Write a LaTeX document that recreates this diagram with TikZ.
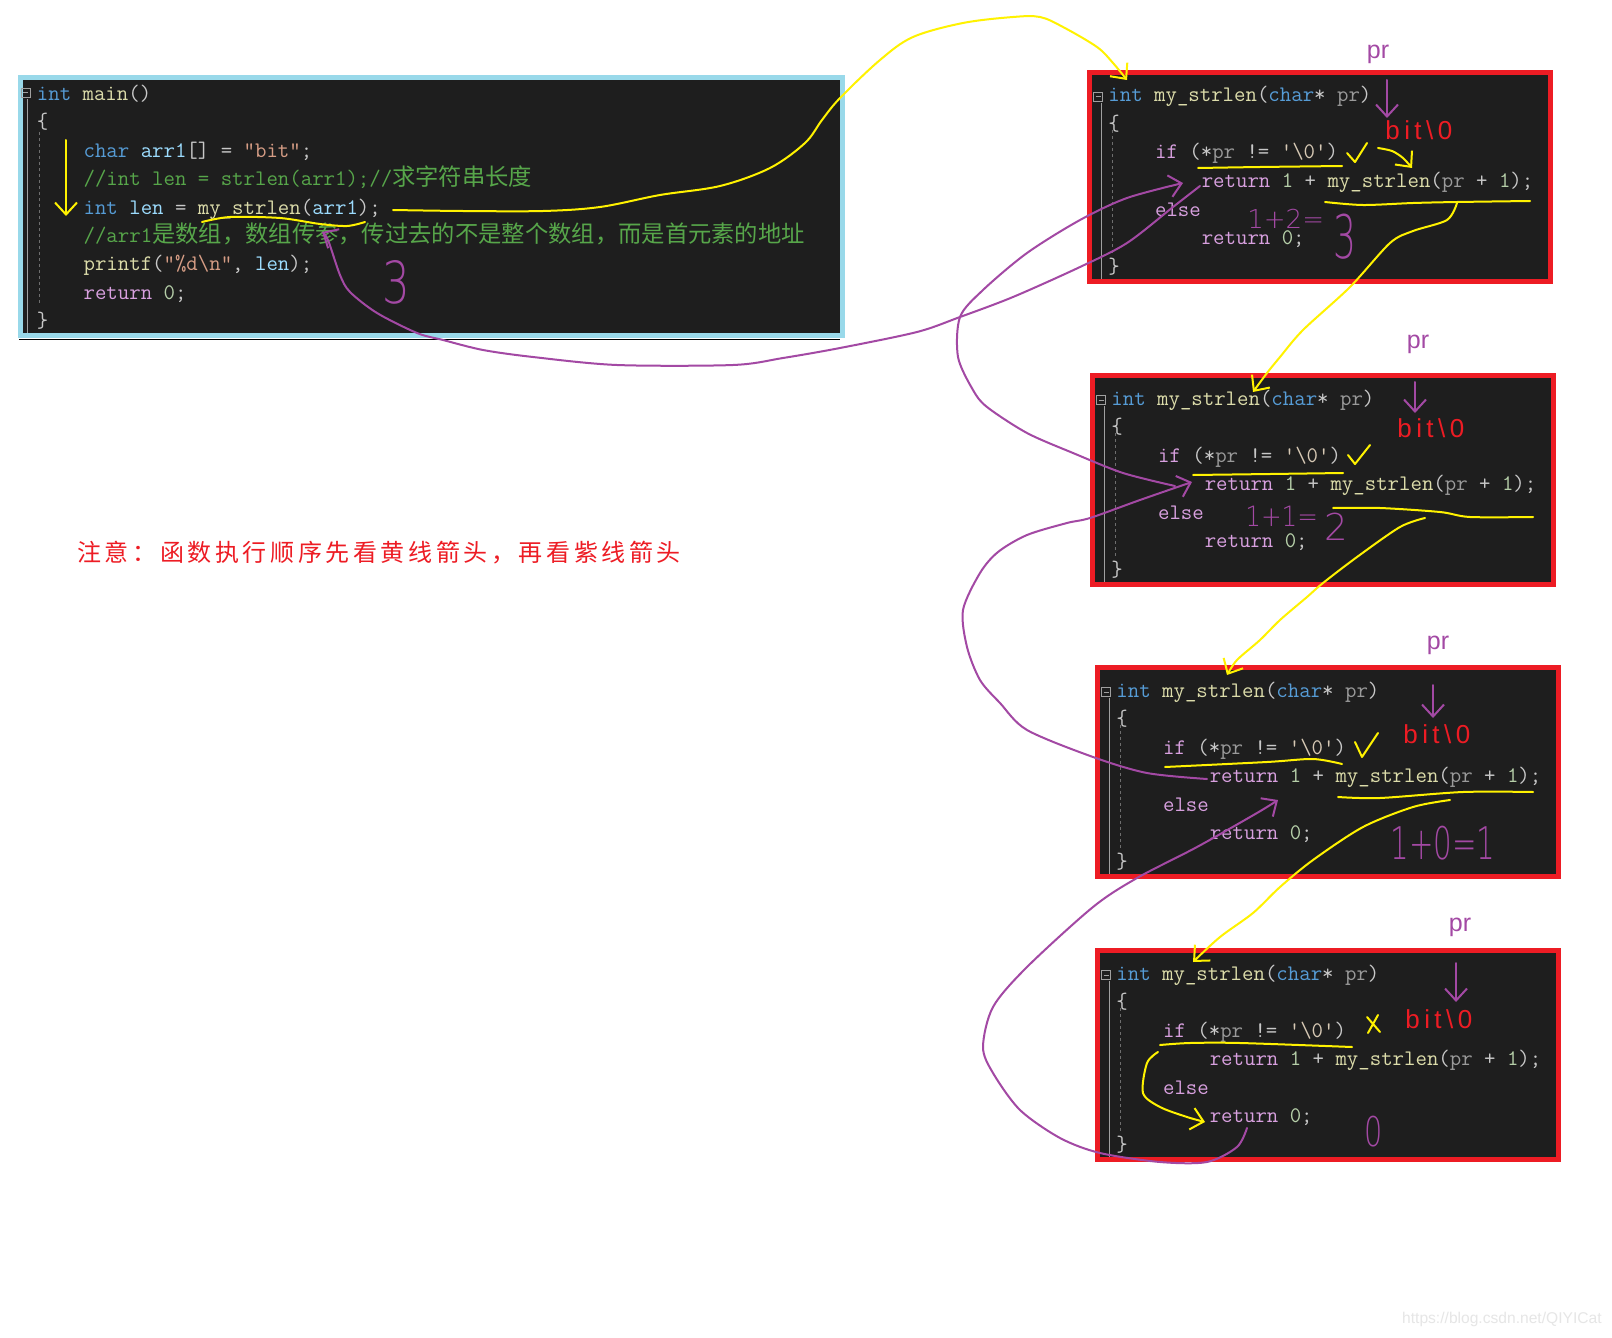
\documentclass[tikz,border=0pt]{standalone}
\usepackage{fontspec}
\usetikzlibrary{arrows.meta}

\newfontfamily\cjkcode[Scale=1.05]{Noto Sans CJK SC}
\newfontfamily\notefont[LetterSpace=15]{Noto Sans CJK SC}
\newfontfamily\markfont{Liberation Sans}
\newfontfamily\bitfont[LetterSpace=17]{Liberation Sans}
\IfFontExistsTF{DejaVu Sans ExtraLight}
  {\newfontfamily\handfont{DejaVu Sans ExtraLight}}
  {\newfontfamily\handfont{DejaVu Sans}}

\definecolor{codebg}{HTML}{1E1E1E}
\definecolor{kwblue}{HTML}{569CD6}
\definecolor{fnyellow}{HTML}{DCDCAA}
\definecolor{ctrlpink}{HTML}{D8A0DF}
\definecolor{punctgray}{HTML}{C8C8C8}
\definecolor{paramgray}{HTML}{9A9A9A}
\definecolor{localblue}{HTML}{9CDCFE}
\definecolor{numgreen}{HTML}{B5CEA8}
\definecolor{strorange}{HTML}{D69D85}
\definecolor{charlit}{HTML}{D6C8B4}
\definecolor{cmtgreen}{HTML}{57A64A}
\definecolor{inkyellow}{HTML}{FFF200}
\definecolor{inkpurple}{HTML}{A349A4}
\definecolor{inkred}{HTML}{ED1C24}
\definecolor{framecyan}{HTML}{99D9EA}
\definecolor{foldgray}{HTML}{A0A0A0}
\definecolor{guidegray}{HTML}{6E6E6E}
\definecolor{wmgray}{HTML}{E6E6E6}

\newcommand\codefont{\ttfamily\fontsize{11.1pt}{13pt}\selectfont\addfontfeature{FakeBold=0.6}\frenchspacing}
\newcommand\colw{11.67}
\newcommand\ckw[1]{\textcolor{kwblue}{#1}}
\newcommand\cfn[1]{\textcolor{fnyellow}{#1}}
\newcommand\cct[1]{\textcolor{ctrlpink}{#1}}
\newcommand\cpa[1]{\textcolor{paramgray}{#1}}
\newcommand\clv[1]{\textcolor{localblue}{#1}}
\newcommand\cnm[1]{\textcolor{numgreen}{#1}}
\newcommand\cst[1]{\textcolor{strorange}{#1}}
\newcommand\cch[1]{\textcolor{charlit}{#1}}
\newcommand\ccm[1]{\textcolor{cmtgreen}{#1}}

\begin{document}
\begin{tikzpicture}[
    x=0.5pt, y=-0.5pt,
    codeline/.style={anchor=base west, inner sep=0pt, font=\codefont, text=punctgray},
    blueframe/.style={draw=framecyan, line width=2.5pt, fill=codebg},
    redframe/.style={draw=inkred, line width=2.4pt, fill=codebg},
    foldline/.style={draw=foldgray, line width=0.5pt},
    indentguide/.style={draw=guidegray, line width=0.5pt, dash pattern=on 1.5pt off 1.5pt},
    inkY/.style={draw=inkyellow, line width=1pt, line cap=round, line join=round},
    inkP/.style={draw=inkpurple, line width=1pt, line cap=round, line join=round},
    inktip/.style={-{Straight Barb[length=6pt, width=11pt]}},
    prlabel/.style={inner sep=0pt, text=inkpurple, font=\markfont\fontsize{12.5pt}{14pt}\selectfont},
    strlabel/.style={anchor=base west, inner sep=0pt, text=inkred, font=\bitfont\fontsize{13pt}{15pt}\selectfont},
    hand/.style={inner sep=0pt, text=inkpurple, font=\handfont}
]

\fill[white] (0,0) rectangle (1612,1338);
\useasboundingbox (0,0) rectangle (1612,1338);

% --- main() box ---
\draw[blueframe] (20,77.5) rectangle (842.5,335.5);
\draw[black, line width=0.6pt] (19,339.5) -- (840,339.5);
\draw[foldline] (21,88.5) rectangle (30,97.5);
\draw[foldline] (23,93) -- (28,93);
\draw[foldline] (27,99) -- (27,333);
\draw[indentguide] (39,132) -- (39,305);

\node[codeline] (m1) at (36.5,100.5) {\ckw{int} \cfn{main}()};
\node[codeline] (m2) at (36.5,128.9) {\{};
\node[codeline] (m3) at (83.2,157.3) {\ckw{char} \clv{arr1}[] = \cst{"bit"};};
\node[codeline] (m4) at (83.2,185.7) {\ccm{//int len = strlen(arr1);//{\cjkcode 求字符串长度}}};
\node[codeline] (m5) at (83.2,214.1) {\ckw{int} \clv{len} = \cfn{my\_strlen}(\clv{arr1});};
\node[codeline] (m6) at (83.2,242.5) {\ccm{//arr1{\cjkcode 是数组，数组传参，传过去的不是整个数组，而是首元素的地址}}};
\node[codeline] (m7) at (83.2,270.9) {\cfn{printf}(\cst{"\%d\textbackslash n"}, \clv{len});};
\node[codeline] (m8) at (83.2,299.3) {\cct{return} \cnm{0};};
\node[codeline] (m9) at (36.5,327.7) {\}};

% --- my_strlen() boxes, one per call ---
\foreach \k/\bx/\by in {1/1087/70, 2/1090/373, 3/1095/665, 4/1095/948}
{
    \draw[redframe] ({\bx+2.4},{\by+2.4}) rectangle ({\bx+463.6},{\by+211.6});
    \draw[foldline] ({\bx+6.5},{\by+22.5}) rectangle ({\bx+15.5},{\by+31.5});
    \draw[foldline] ({\bx+8.5},{\by+27}) -- ({\bx+13.5},{\by+27});
    \draw[foldline] ({\bx+14},{\by+33}) -- ({\bx+14},{\by+209});
    \draw[indentguide] ({\bx+25},{\by+60}) -- ({\bx+25},{\by+185});

    \node[codeline] (f\k-1) at ({\bx+21},{\by+32}) {\ckw{int} \cfn{my\_strlen}(\ckw{char}* \cpa{pr})};
    \node[codeline] (f\k-2) at ({\bx+21},{\by+60.5}) {\{};
    \node[codeline] (f\k-3) at ({\bx+21+4*\colw},{\by+89}) {\cct{if} (*\cpa{pr} != \cch{'\textbackslash 0'})};
    \node[codeline] (f\k-4) at ({\bx+21+8*\colw},{\by+117.5}) {\cct{return} \cnm{1} + \cfn{my\_strlen}(\cpa{pr} + \cnm{1});};
    \node[codeline] (f\k-5) at ({\bx+21+4*\colw},{\by+146}) {\cct{else}};
    \node[codeline] (f\k-6) at ({\bx+21+8*\colw},{\by+174.5}) {\cct{return} \cnm{0};};
    \node[codeline] (f\k-7) at ({\bx+21},{\by+203}) {\}};
}

% --- pointer labels ---
\node[prlabel] (pr1) at (1378,54) {pr};
\node[prlabel] (pr2) at (1418,344) {pr};
\node[prlabel] (pr3) at (1438,645) {pr};
\node[prlabel] (pr4) at (1460,927) {pr};

\node[strlabel] (bit1) at (1385,140) {bit\textbackslash 0};
\node[strlabel] (bit2) at (1397,437) {bit\textbackslash 0};
\node[strlabel] (bit3) at (1403,743) {bit\textbackslash 0};
\node[strlabel] (bit4) at (1405,1028) {bit\textbackslash 0};

\coordinate (ptr1a) at (1387,80);   \coordinate (ptr1b) at (1387,118);
\coordinate (ptr2a) at (1415,382);  \coordinate (ptr2b) at (1415,413);
\coordinate (ptr3a) at (1433,685);  \coordinate (ptr3b) at (1433,718);
\coordinate (ptr4a) at (1456,963);  \coordinate (ptr4b) at (1456,1002);
\foreach \k in {1,...,4}
    \draw[inkP, inktip] (ptr\k a) -- (ptr\k b);

% --- handwritten results ---
\node[hand, anchor=base west] (sum1a) at (1247,228) {\fontsize{13pt}{13pt}\selectfont 1+2=};
\node[hand] (sum1b) at (1345,237) {\fontsize{30pt}{30pt}\selectfont\scalebox{0.6}[1]{3}};
\node[hand, anchor=base west] (sum2a) at (1245,526) {\fontsize{14pt}{15pt}\selectfont\scalebox{0.88}[1]{1+1=}};
\node[hand] (sum2b) at (1336,527) {\fontsize{18.5pt}{19pt}\selectfont 2};
\node[hand] (sum3) at (1443,843) {\fontsize{22.5pt}{23pt}\selectfont\scalebox{0.65}[1]{1+0=1}};
\node[hand] (sum4) at (1374,1132) {\fontsize{20.5pt}{21pt}\selectfont\scalebox{0.7}[1]{0}};
\node[hand] (res) at (396,282) {\fontsize{29pt}{29pt}\selectfont\scalebox{0.75}[1]{3}};

% --- note ---
\node[anchor=west, inner sep=0pt, text=inkred, font=\notefont\fontsize{12pt}{14pt}\selectfont] (note) at (77,553)
    {注意：函数执行顺序先看黄线箭头，再看紫线箭头};

% --- yellow: calls going down ---
\coordinate (flowA) at (66,140);
\coordinate (flowB) at (66,216);
\draw[inkY, inktip] (flowA) -- (flowB);
\draw[inkY] plot[smooth] coordinates {(202,222) (230,217) (280,218) (320,224) (347,226) (365,222)};

\coordinate (callM) at (393,210);
\coordinate (entry1) at (1127,80);
\draw[inkY, inktip] plot[smooth, tension=0.55] coordinates {(callM) (463,211) (543,211) (600,207) (660,195) (720,186) (770,168) (805,143) (822,120) (840,98) (880,60) (913,37) (963,23) (1013,17) (1040,17) (1063,27) (1097,47) (1113,63) (entry1)};

% box 1
\draw[inkY] plot[smooth] coordinates {(1198,168) (1260,167) (1342,166)};
\draw[inkY] (1347,153) -- (1355,162) -- (1367,143);
\draw[inkY, inktip] plot[smooth] coordinates {(1378,148) (1392,151) (1403,158) (1412,168)};
\draw[inkY] plot[smooth] coordinates {(1325,202) (1363,205) (1413,203) (1457,202) (1530,201)};
\coordinate (call1) at (1457,203);
\coordinate (entry2) at (1253,392);
\draw[inkY, inktip] plot[smooth] coordinates {(call1) (1447,220) (1413,231) (1390,243) (1350,287) (1303,330) (1280,357) (1267,373) (entry2)};

% box 2
\draw[inkY] plot[smooth] coordinates {(1193,475) (1270,474) (1343,473)};
\draw[inkY] (1348,455) -- (1355,464) -- (1370,445);
\draw[inkY] plot[smooth] coordinates {(1333,508) (1380,508) (1440,512) (1470,517) (1533,517)};
\coordinate (call2) at (1425,518);
\coordinate (entry3) at (1227,675);
\draw[inkY, inktip] plot[smooth] coordinates {(call2) (1400,527) (1357,557) (1323,583) (1307,597) (1280,620) (1260,640) (1237,660) (entry3)};

% box 3
\draw[inkY] plot[smooth] coordinates {(1165,767) (1267,762) (1313,759) (1342,764)};
\draw[inkY] (1355,742) -- (1362,757) -- (1378,733);
\draw[inkY] plot[smooth] coordinates {(1338,797) (1380,798) (1463,792) (1533,792)};
\coordinate (call3) at (1450,800);
\coordinate (entry4) at (1193,962);
\draw[inkY, inktip] plot[smooth] coordinates {(call3) (1413,807) (1363,827) (1313,860) (1280,887) (1253,913) (1220,937) (entry4)};

% box 4
\draw[inkY] plot[smooth] coordinates {(1160,1045) (1190,1043) (1240,1043) (1352,1047)};
\draw[inkY] (1367,1017) -- (1380,1032) (1378,1015) -- (1368,1033);
\coordinate (test4) at (1158,1052);
\coordinate (ret4) at (1205,1122);
\draw[inkY, inktip] plot[smooth] coordinates {(test4) (1147,1063) (1143,1093) (1160,1107) (1187,1117) (ret4)};

% --- purple: values going back up ---
\coordinate (back4) at (1247,1128);
\coordinate (back3in) at (1278,800);
\draw[inkP, inktip] plot[smooth] coordinates {(back4) (1237,1147) (1207,1162) (1160,1162) (1100,1153) (1060,1138) (1020,1110) (993,1073) (983,1047) (993,1007) (1027,967) (1093,907) (1137,878) (1197,847) (1257,813) (back3in)};

\coordinate (back3) at (1207,779);
\coordinate (back2in) at (1192,482);
\draw[inkP, inktip] plot[smooth] coordinates {(back3) (1147,773) (1093,757) (1027,730) (1000,703) (980,680) (967,647) (963,610) (980,573) (998,552) (1027,535) (1067,523) (1090,518) (1140,500) (back2in)};

\coordinate (back2) at (1175,486);
\coordinate (back1in) at (1183,183);
\draw[inkP, inktip] plot[smooth] coordinates {(back2) (1123,473) (1073,453) (1027,433) (987,407) (973,390) (958,357) (960,317) (983,290) (1027,253) (1080,220) (1127,198) (back1in)};

\coordinate (back1) at (1200,186);
\coordinate (backM) at (322,232);
\draw[inkP, inktip] plot[smooth] coordinates {(back1) (1173,207) (1127,243) (1080,267) (1013,297) (960,317) (917,332) (840,348) (783,358) (733,365) (617,365) (533,357) (483,350) (443,340) (417,333) (377,313) (350,292) (340,275) (328,240) (backM)};

% --- watermark ---
\node[anchor=east, inner sep=0pt, text=wmgray, font=\markfont\fontsize{7.8pt}{9pt}\selectfont] (wm) at (1602,1319)
    {https://blog.csdn.net/QIYICat};

\end{tikzpicture}
\end{document}
